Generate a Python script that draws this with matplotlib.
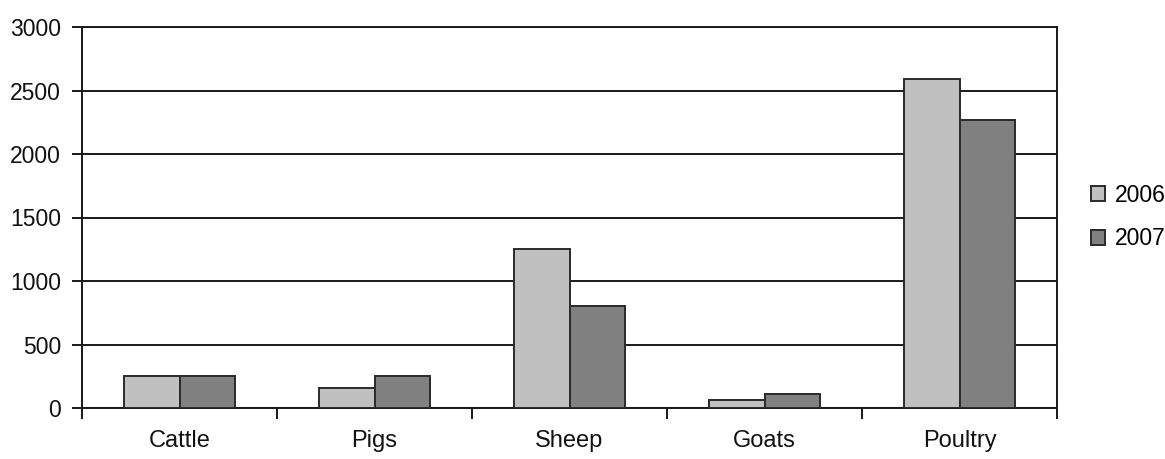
import matplotlib.pyplot as plt
import numpy as np
from matplotlib.patches import Patch

plt.rcParams['font.family'] = ['Liberation Sans', 'DejaVu Sans']

# Livestock numbers per year
categories = ['Cattle', 'Pigs', 'Sheep', 'Goats', 'Poultry']
values_2006 = [250, 160, 1250, 60, 2590]
values_2007 = [250, 250, 800, 110, 2270]
years = ['2006', '2007']
colors = ['#c0c0c0', '#808080']

fig = plt.figure(figsize=(11.65, 4.59), dpi=100)
ax = fig.add_axes([82 / 1165, 51 / 459, 975 / 1165, 381 / 459])

x = np.arange(len(categories))
width = 1 / 3.5  # Excel-like gap width of 150%
ax.bar(x - width / 2, values_2006, width, color=colors[0], edgecolor='#2a2a2a', linewidth=1.4, zorder=3)
ax.bar(x + width / 2, values_2007, width, color=colors[1], edgecolor='#2a2a2a', linewidth=1.4, zorder=3)

ax.set_xlim(-0.5, len(categories) - 0.5)
ax.set_ylim(0, 3000)
ax.set_yticks(np.arange(0, 3001, 500))
ax.yaxis.grid(True, color='#1a1a1a', linewidth=1.4, zorder=0)
ax.set_axisbelow(True)

# Tick marks between categories, labels centred under each group
ax.set_xticks(np.arange(-0.5, len(categories), 1.0))
ax.set_xticklabels([])
ax.set_xticks(x, minor=True)
ax.set_xticklabels(categories, minor=True)
ax.tick_params(axis='x', which='major', direction='out', length=8, width=1.4, color='#1a1a1a')
ax.tick_params(axis='x', which='minor', length=0, pad=16, labelsize=17, labelcolor='#111111')
ax.tick_params(axis='y', direction='out', length=7, width=1.4, color='#1a1a1a', pad=8,
               labelsize=16.5, labelcolor='#111111')

for side in ['left', 'bottom', 'right', 'top']:
    ax.spines[side].set_color('#1a1a1a')
    ax.spines[side].set_linewidth(1.4)

handles = [Patch(facecolor=c, edgecolor='#2a2a2a', linewidth=1.4) for c in colors]
fig.legend(handles, years, loc='center left', bbox_to_anchor=(1080 / 1165, 1 - 217 / 459),
           frameon=False, fontsize=16.5, handlelength=0.6, handleheight=0.6,
           handletextpad=0.4, labelspacing=0.9, borderpad=0)

plt.savefig('out.png', dpi=100)
